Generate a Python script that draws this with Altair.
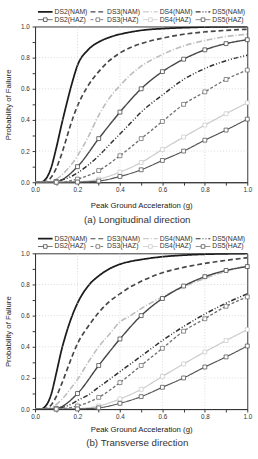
import altair as alt
import pandas as pd

# ---------------- data ----------------
X_NAM = [0.0, 0.025, 0.05, 0.075, 0.1, 0.125, 0.15, 0.175, 0.2, 0.25,
         0.3, 0.35, 0.4, 0.45, 0.5, 0.6, 0.7, 0.8, 0.9, 1.0]

# (a) Longitudinal direction - NAM curves
A_DS2_NAM = [0, 0, 0.02, 0.09, 0.22, 0.37, 0.51, 0.64, 0.75, 0.85,
             0.9, 0.93, 0.95, 0.964, 0.975, 0.986, 0.992, 0.996, 0.998, 1.0]
A_DS3_NAM = [0, 0, 0.003, 0.03, 0.09, 0.18, 0.29, 0.4, 0.49, 0.62,
             0.71, 0.78, 0.83, 0.865, 0.89, 0.925, 0.95, 0.965, 0.975, 0.982]
A_DS4_NAM = [0, 0, 0, 0.005, 0.02, 0.045, 0.08, 0.12, 0.17, 0.29,
             0.43, 0.54, 0.62, 0.69, 0.745, 0.82, 0.875, 0.91, 0.935, 0.95]
A_DS5_NAM = [0, 0, 0, 0, 0.005, 0.015, 0.025, 0.04, 0.06, 0.11,
             0.17, 0.24, 0.31, 0.38, 0.45, 0.56, 0.66, 0.73, 0.78, 0.815]

# (b) Transverse direction - NAM curves
B_DS2_NAM = [0, 0, 0.02, 0.09, 0.23, 0.38, 0.5, 0.6, 0.68, 0.79,
             0.855, 0.9, 0.93, 0.948, 0.96, 0.978, 0.988, 0.994, 0.997, 0.999]
B_DS3_NAM = [0, 0, 0.003, 0.025, 0.08, 0.16, 0.25, 0.34, 0.42, 0.53,
             0.62, 0.69, 0.74, 0.785, 0.82, 0.875, 0.91, 0.935, 0.955, 0.972]
B_DS4_NAM = [0, 0, 0, 0.008, 0.03, 0.06, 0.1, 0.145, 0.19, 0.3,
             0.4, 0.48, 0.56, 0.6, 0.645, 0.72, 0.785, 0.84, 0.885, 0.92]
B_DS5_NAM = [0, 0, 0, 0, 0.004, 0.01, 0.02, 0.035, 0.055, 0.09,
             0.14, 0.19, 0.24, 0.29, 0.34, 0.44, 0.53, 0.61, 0.68, 0.74]

# HAZUS curves (same in both panels), markers every 0.1 g
X_HAZ = [0.0, 0.1, 0.2, 0.3, 0.4, 0.5, 0.6, 0.7, 0.8, 0.9, 1.0]
DS2_HAZ = [0, 0.005, 0.1, 0.28, 0.45, 0.6, 0.71, 0.79, 0.85, 0.89, 0.915]
DS3_HAZ = [0, 0.0, 0.02, 0.075, 0.17, 0.28, 0.39, 0.5, 0.58, 0.66, 0.72]
DS4_HAZ = [0, 0.0, 0.003, 0.02, 0.065, 0.127, 0.21, 0.29, 0.367, 0.44, 0.51]
DS5_HAZ = [0, 0.0, 0.001, 0.008, 0.037, 0.08, 0.14, 0.2, 0.27, 0.335, 0.405]

SERIES = ["DS2(NAM)", "DS3(NAM)", "DS4(NAM)", "DS5(NAM)",
          "DS2(HAZ)", "DS3(HAZ)", "DS4(HAZ)", "DS5(HAZ)"]
CAPTIONS = ["(a)  Longitudinal direction", "(b)  Transverse direction"]
AXIS_TICKS = [0.0, 0.1, 0.2, 0.3, 0.4, 0.5, 0.6, 0.7, 0.8, 0.9, 1.0]
GRID = [0.2, 0.4, 0.6, 0.8]

# ---------------- styles ----------------
STROKES = ["#1c1c1c", "#474747", "#bdbdbd", "#303030",
           "#474747", "#707070", "#cdcdcd", "#555555"]
DASHES = [[1, 0], [5, 3], [6, 2, 1, 2], [5, 2, 1, 2, 1, 2],
          [1, 0], [3, 2], [1, 0], [1, 0]]
WIDTHS = [1.8, 1.2, 1.0, 1.1, 0.9, 0.9, 0.9, 0.8]
FONT = "Liberation Sans"

stroke_scale = alt.Scale(domain=SERIES, range=STROKES)
dash_scale = alt.Scale(domain=SERIES, range=DASHES)
width_scale = alt.Scale(domain=SERIES, range=WIDTHS)
xs = alt.Scale(domain=[0, 1], nice=False, zero=False)
ys = alt.Scale(domain=[0, 1], nice=False, zero=False)

LABEL_EXPR = "(round(datum.value*10) % 2 == 0) ? format(datum.value, '.1f') : ''"

YAXIS = alt.Axis(values=AXIS_TICKS, labelExpr=LABEL_EXPR, title="Probability of Failure",
                 labelOverlap=False, labelFlush=False, titlePadding=8, labelPadding=3)


def panel(nam_values, caption, x_title_pad, cap_offset):
    xaxis = alt.Axis(values=AXIS_TICKS, labelExpr=LABEL_EXPR, title="Peak Ground Acceleration (g)",
                     labelFlush=False, labelOverlap=False, titlePadding=x_title_pad, labelPadding=2)
    rows = []
    for name, vals in zip(SERIES[:4], nam_values):
        for x, v in zip(X_NAM, vals):
            rows.append({"series": name, "pga": x, "pf": v})
    for name, vals in zip(SERIES[4:], [DS2_HAZ, DS3_HAZ, DS4_HAZ, DS5_HAZ]):
        for x, v in zip(X_HAZ, vals):
            rows.append({"series": name, "pga": x, "pf": v})
    df = pd.DataFrame(rows)
    pts_df = df[df["series"].str.contains("HAZ") & (df["pga"] > 0)]

    lines = alt.Chart(df).mark_line(interpolate="monotone", clip=True).encode(
        x=alt.X("pga:Q", scale=xs, axis=xaxis),
        y=alt.Y("pf:Q", scale=ys, axis=YAXIS),
        stroke=alt.Stroke("series:N", scale=stroke_scale, legend=None),
        strokeDash=alt.StrokeDash("series:N", scale=dash_scale, legend=None),
        strokeWidth=alt.StrokeWidth("series:N", scale=width_scale, legend=None),
    )

    gdf = pd.DataFrame({"pga": GRID, "pf": GRID})
    vgrid = alt.Chart(gdf).mark_rule(color="#c8c8c8", strokeDash=[1, 2], strokeWidth=0.7).encode(
        x=alt.X("pga:Q", scale=xs, axis=xaxis))
    hgrid = alt.Chart(gdf).mark_rule(color="#c8c8c8", strokeDash=[1, 2], strokeWidth=0.7).encode(
        y=alt.Y("pf:Q", scale=ys, axis=YAXIS))

    pts = alt.Chart(pts_df).mark_point(shape="square", filled=True, fill="white", size=16,
                                       strokeWidth=0.8, opacity=1).encode(
        x=alt.X("pga:Q", scale=xs, axis=xaxis),
        y=alt.Y("pf:Q", scale=ys, axis=YAXIS),
        stroke=alt.Stroke("series:N", scale=stroke_scale, legend=None),
    )

    # hand-built legend: 4 columns x 2 rows above the plot
    one = pd.DataFrame({"k": [0]})
    leg = []
    for i, name in enumerate(SERIES):
        col, row = i % 4, i // 4
        x0 = 3 + 54 * col
        yy = -15 + 8 * row
        leg.append(alt.Chart(one).mark_rule(color=STROKES[i], strokeDash=DASHES[i],
                                            strokeWidth=WIDTHS[i]).encode(
            x=alt.value(x0), x2=alt.value(x0 + 15), y=alt.value(yy)))
        if row == 1:
            leg.append(alt.Chart(one).mark_point(shape="square", filled=True, fill="white", size=14,
                                                 strokeWidth=0.8, stroke=STROKES[i], opacity=1).encode(
                x=alt.value(x0 + 7.5), y=alt.value(yy)))
        leg.append(alt.Chart(one).mark_text(text=name, align="left", baseline="middle", fontSize=7,
                                            font=FONT, color="#333").encode(
            x=alt.value(x0 + 17), y=alt.value(yy)))

    return alt.layer(lines, vgrid, hgrid, pts, *leg).properties(
        width=218, height=160,
        title=alt.TitleParams(caption, orient="bottom", anchor="middle", frame="group",
                              fontSize=10, font=FONT, fontWeight="normal", color="#333",
                              offset=cap_offset, dx=-4),
    )


pa = panel([A_DS2_NAM, A_DS3_NAM, A_DS4_NAM, A_DS5_NAM], CAPTIONS[0], 8, 6)
pb = panel([B_DS2_NAM, B_DS3_NAM, B_DS4_NAM, B_DS5_NAM], CAPTIONS[1], 6, 4)

chart = alt.vconcat(pa, pb, spacing=9).properties(
    padding={"left": 4, "top": 1, "right": 5, "bottom": 2}
).configure_axis(
    labelFont=FONT, titleFont=FONT, labelFontSize=6.5, titleFontSize=8,
    titleFontWeight="normal", labelColor="#333", titleColor="#222",
    domainColor="#333", tickColor="#333", tickSize=3, grid=False,
).configure_view(stroke="#333", strokeWidth=1)

chart.save("out.html", embed_options={"renderer": "svg", "actions": False})
